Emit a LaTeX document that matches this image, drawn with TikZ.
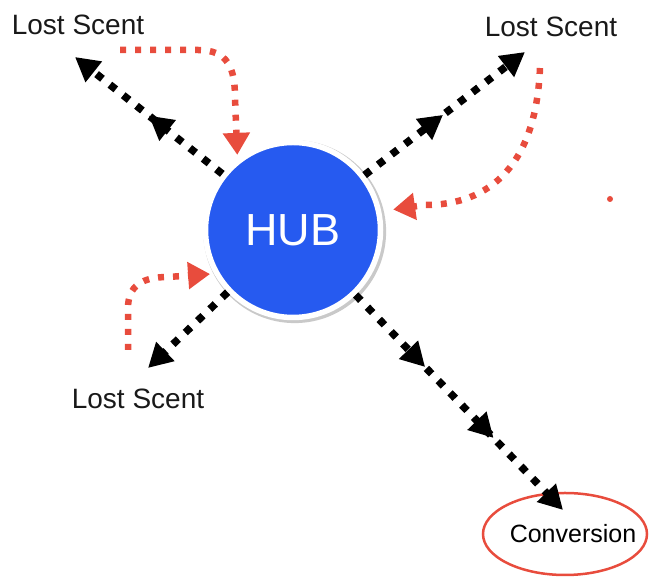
\documentclass[tikz,border=0pt]{standalone}
\usepackage{fontspec}
\setmainfont{Liberation Sans}
\usetikzlibrary{arrows.meta,shapes.geometric,decorations.markings,shadows}
\definecolor{hubblue}{RGB}{38,90,240}
\definecolor{scentred}{RGB}{232,76,61}
\begin{document}
\begin{tikzpicture}[x=0.5pt,y=-0.5pt,
    hubsty/.style={circle,minimum size=87.5pt,fill=hubblue,draw=white,
      line width=2.75pt,text=white,font=\fontsize{22.5}{27}\selectfont,
      general shadow={fill=black!30,opacity=.7,shadow scale=1.045,
        shadow xshift=.8pt,shadow yshift=-.8pt}},
    lblsty/.style={text=black!90,font=\fontsize{14}{16}\selectfont,inner sep=0pt},
    convsty/.style={ellipse,draw=scentred,line width=1.25pt,minimum width=82pt,
      minimum height=41pt,inner sep=0pt,font=\fontsize{12.5}{15}\selectfont},
    blksty/.style={draw=black,line width=3.75pt,dash pattern=on 3.75pt off 4.75pt,
      -{Triangle[length=12pt,width=12.5pt]}},
    redsty/.style={draw=scentred,line width=3.25pt,dash pattern=on 3pt off 4.5pt,
      -{Triangle[length=11pt,width=13pt]},shorten >=2pt},
    midtip/.style={postaction={decorate,decoration={markings,
      mark=at position #1 with {\arrow{Triangle[length=12pt,width=12.5pt]}}}}}]
  \useasboundingbox (0,0) rectangle (649,581);
  \node[hubsty] (hub) at (293,230) {HUB};
  \node[lblsty] (lsNW) at (78,25) {Lost Scent};
  \node[lblsty] (lsNE) at (551,27) {Lost Scent};
  \node[lblsty] (lsSW) at (138,399) {Lost Scent};
  \node[convsty] (conv) at (565,534) {\makebox[0pt]{\hspace{8pt}Conversion}};
  \coordinate (tNW) at (75,57);
  \coordinate (tNE) at (525,52);
  \coordinate (tSW) at (148,368);
  \coordinate (tSE) at (563,510);
  % visitors leaving the hub
  \draw[blksty,midtip=0.5] (hub) -- (tNW);
  \draw[blksty,midtip=0.49] (hub) -- (tNE);
  \draw[blksty] (hub) -- (tSW);
  % way to the conversion
  \draw[blksty,midtip=0.335,midtip=0.665] (hub) -- (tSE);
  % coming back to the hub
  \coordinate (rNW) at (120,50);
  \coordinate (rNE) at (540,68);
  \coordinate (rSW) at (128,350);
  \draw[redsty] (rNW) -- (198,50) .. controls (228,50) and (235,68) .. (235,98) -- (hub.128);
  \draw[redsty,shorten >=6pt] (rNE) .. controls (536,165) and (490,205) .. (425,205) -- (hub.12);
  \draw[redsty] (rSW) -- (128,308) .. controls (128,286) and (142,277) .. (168,277) -- (hub.209);
  \fill[scentred] (610,199) circle (1.5pt);
\end{tikzpicture}
\end{document}
